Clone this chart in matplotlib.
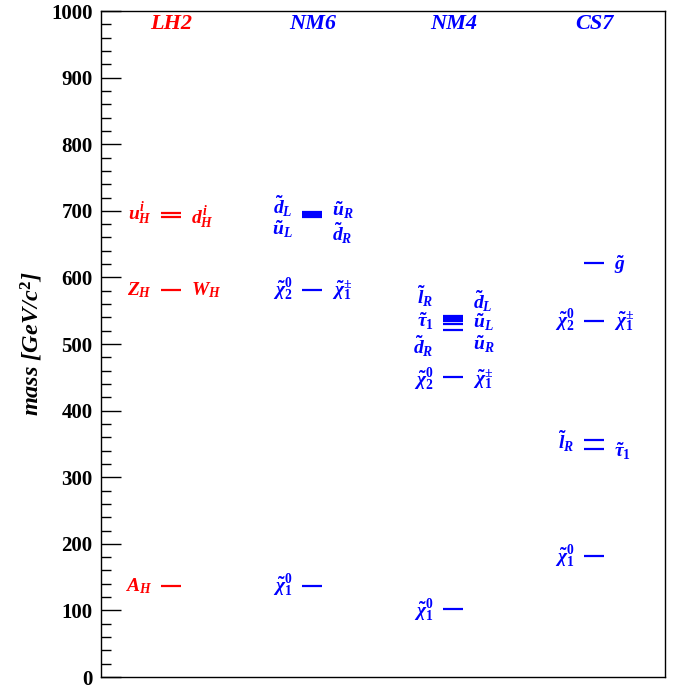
import matplotlib
matplotlib.use('Agg')
import matplotlib.pyplot as plt
from matplotlib.ticker import MultipleLocator

plt.rcParams['font.family'] = 'Liberation Serif'
plt.rcParams['mathtext.fontset'] = 'custom'
plt.rcParams['mathtext.rm'] = 'Liberation Serif:bold'
plt.rcParams['mathtext.it'] = 'Liberation Serif:italic:bold'
plt.rcParams['mathtext.bf'] = 'Liberation Serif:bold'

# Benchmark models and their spectra (masses in GeV)
models = ['LH2', 'NM6', 'NM4', 'CS7']
model_colors = ['red', 'blue', 'blue', 'blue']

lh2_masses = [697, 690, 581, 137]
lh2_left = [r'$u^{i}_{H}$', None, r'$Z_{H}$', r'$A_{H}$']
lh2_right = [None, r'$d^{i}_{H}$', r'$W_{H}$', None]

nm6_masses = [698, 696, 693, 690, 581, 137]
nm6_left = [r'$\tilde{d}_{L}$', None, r'$\tilde{u}_{L}$', None, r'$\tilde{\chi}^{0}_{2}$', r'$\tilde{\chi}^{0}_{1}$']
nm6_right = [None, r'$\tilde{u}_{R}$', None, r'$\tilde{d}_{R}$', r'$\tilde{\chi}^{\pm}_{1}$', None]

nm4_masses = [542, 540, 537, 535, 530, 521, 450, 102]
nm4_left = [None, r'$\tilde{l}_{R}$', r'$\tilde{\tau}_{1}$', None, None, r'$\tilde{d}_{R}$', r'$\tilde{\chi}^{0}_{2}$', r'$\tilde{\chi}^{0}_{1}$']
nm4_right = [r'$\tilde{d}_{L}$', None, None, r'$\tilde{u}_{L}$', r'$\tilde{u}_{R}$', None, r'$\tilde{\chi}^{\pm}_{1}$', None]

cs7_masses = [622, 535, 356, 342, 182]
cs7_left = [None, r'$\tilde{\chi}^{0}_{2}$', r'$\tilde{l}_{R}$', None, r'$\tilde{\chi}^{0}_{1}$']
cs7_right = [r'$\tilde{g}$', r'$\tilde{\chi}^{\pm}_{1}$', None, r'$\tilde{\tau}_{1}$', None]

spectra = [
    (lh2_masses, lh2_left, lh2_right),
    (nm6_masses, nm6_left, nm6_right),
    (nm4_masses, nm4_left, nm4_right),
    (cs7_masses, cs7_left, cs7_right),
]

# vertical label nudges (GeV) so stacked labels don't overlap
nudges = [
    [-2, 0, 0, 0],
    [9, 4, -21, -24, 0, 0],
    [22, 31, -3, -3, -30, -25, -3, -2],
    [-3, 0, -2, -4, -2],
]

fig = plt.figure(figsize=(6.77, 6.9), dpi=100)
ax = fig.add_axes([0.149, 0.0188, 0.833, 0.9652])

half = 0.071
gap = 0.14
for i, (name, col) in enumerate(zip(models, model_colors)):
    x = i + 0.5
    masses, left, right = spectra[i]
    for m, lt, rt, dy in zip(masses, left, right, nudges[i]):
        ax.plot([x - half, x + half], [m, m], color=col, lw=1.6, solid_capstyle='butt')
        if lt:
            ax.text(x - gap, m + dy, lt, color=col, fontsize=14, ha='right', va='center')
        if rt:
            ax.text(x + gap, m + dy, rt, color=col, fontsize=14, ha='left', va='center')
    ax.text(x, 980, name, color=col, fontsize=16, fontweight='bold', fontstyle='italic',
            ha='center', va='center')

ax.set_xlim(0, 4)
ax.set_ylim(0, 1000)
ax.set_xticks([])
ax.yaxis.set_major_locator(MultipleLocator(100))
ax.yaxis.set_minor_locator(MultipleLocator(20))
ax.tick_params(axis='y', which='major', direction='in', length=14.4, width=1, labelsize=15, pad=6)
ax.tick_params(axis='y', which='minor', direction='in', length=7.2, width=1)
for lab in ax.get_yticklabels():
    lab.set_fontweight('bold')
for s in ax.spines.values():
    s.set_linewidth(1)

ax.set_ylabel(r'mass [GeV/c$^{2}$]', fontsize=17.5, fontweight='bold', fontstyle='italic', labelpad=4)

fig.savefig('out.png', dpi=100)
